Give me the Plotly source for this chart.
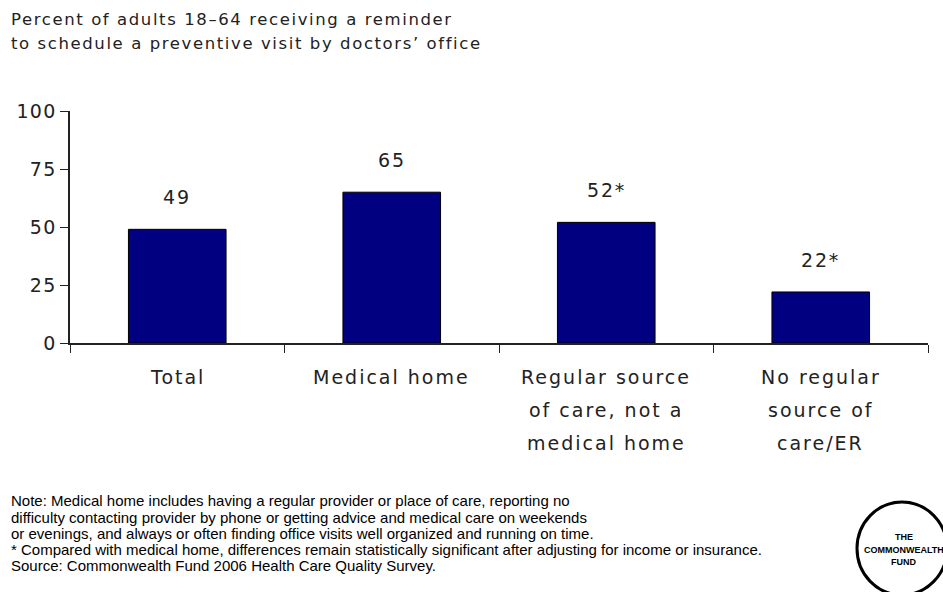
import plotly.graph_objects as go

categories = ["Total", "Medical home", "Regular source of care, not a medical home", "No regular source of care/ER"]
category_lines = [["Total"], ["Medical home"], ["Regular source", "of care, not a", "medical home"], ["No regular", "source of", "care/ER"]]
values = [49, 65, 52, 22]
value_labels = ["49", "65", "52*", "22*"]
y_ticks = [0, 25, 50, 75, 100]

title_lines = ["Percent of adults 18\u201364 receiving a reminder",
               "to schedule a preventive visit by doctors\u2019 office"]
note_lines = [
    "Note: Medical home includes having a regular provider or place of care, reporting no",
    "difficulty contacting provider by phone or getting advice and medical care on weekends",
    "or evenings, and always or often finding office visits well organized and running on time.",
    "* Compared with medical home, differences remain statistically significant after adjusting for income or insurance.",
    "Source: Commonwealth Fund 2006 Health Care Quality Survey.",
]
logo_lines = ["THE", "COMMONWEALTH", "FUND"]

W, H = 943, 592
L, R, T, B = 70, 15, 111, 249
PW, PH = W - L - R, H - T - B
FONT = "DejaVu Sans"
TXT = "#222222"


def px(x):
    return (x - L) / PW


def py(y):
    return (H - B - y) / PH


def sp(text, ls):
    return '<span style="letter-spacing:%spx">%s</span>' % (ls, text)


fig = go.Figure(go.Bar(
    x=categories, y=values,
    marker=dict(color="#000080", line=dict(color="#000000", width=1)),
    width=0.455,
    hoverinfo="skip",
))

ann = []
for c, v, t in zip(categories, values, value_labels):
    ann.append(dict(x=c, y=v, xref="x", yref="y", text=sp(t, 1.8), showarrow=False,
                    yanchor="middle", yshift=32, font=dict(family=FONT, size=19, color=TXT)))
for c, lines in zip(categories, category_lines):
    for j, ln in enumerate(lines):
        ann.append(dict(x=c, y=0, xref="x", yref="y", text=sp(ln, 2), showarrow=False,
                        yanchor="middle", yshift=-34 - 33 * j,
                        font=dict(family=FONT, size=19, color=TXT)))
for j, ln in enumerate(title_lines):
    ann.append(dict(x=px(9), y=py(19 + 24 * j), xref="paper", yref="paper", text=sp(ln, 1.6),
                    showarrow=False, xanchor="left", yanchor="middle",
                    font=dict(family=FONT, size=16.5, color=TXT)))
for j, ln in enumerate(note_lines):
    ann.append(dict(x=px(9), y=py(501 + 16 * j), xref="paper", yref="paper", text=ln,
                    showarrow=False, xanchor="left", yanchor="middle",
                    font=dict(family="Liberation Sans", size=15, color="#000000")))
for j, ln in enumerate(logo_lines):
    ann.append(dict(x=px(903.5), y=py(537 + 12.5 * j), xref="paper", yref="paper", text="<b>" + ln + "</b>",
                    showarrow=False, xanchor="center", yanchor="middle",
                    font=dict(family="Liberation Sans", size=9, color="#000000")))

fig.update_layout(
    width=W, height=H,
    margin=dict(l=L, r=R, t=T, b=B),
    paper_bgcolor="white", plot_bgcolor="white",
    showlegend=False,
    annotations=ann,
    xaxis=dict(showticklabels=False, tickson="boundaries", ticks="outside", ticklen=8,
               tickcolor="#222222", tickwidth=1, showline=True, linecolor="#222222",
               linewidth=1.5, showgrid=False, range=[-0.5, 3.5], fixedrange=True),
    yaxis=dict(range=[0, 100], tickvals=y_ticks, ticktext=[sp(str(v), 1.2) for v in y_ticks],
               ticks="outside", ticklen=8,
               tickcolor="#222222", showline=True, linecolor="#222222", linewidth=1.5,
               showgrid=False, zeroline=False,
               tickfont=dict(family=FONT, size=19, color=TXT), fixedrange=True),
    shapes=[dict(type="circle", xref="paper", yref="paper",
                 x0=px(857), x1=px(947), y0=py(502), y1=py(595),
                 line=dict(color="#000000", width=3))],
)

fig.write_html("out.html", config={"displayModeBar": False},
               post_script="document.body.style.margin='0';document.body.style.padding='0';")
